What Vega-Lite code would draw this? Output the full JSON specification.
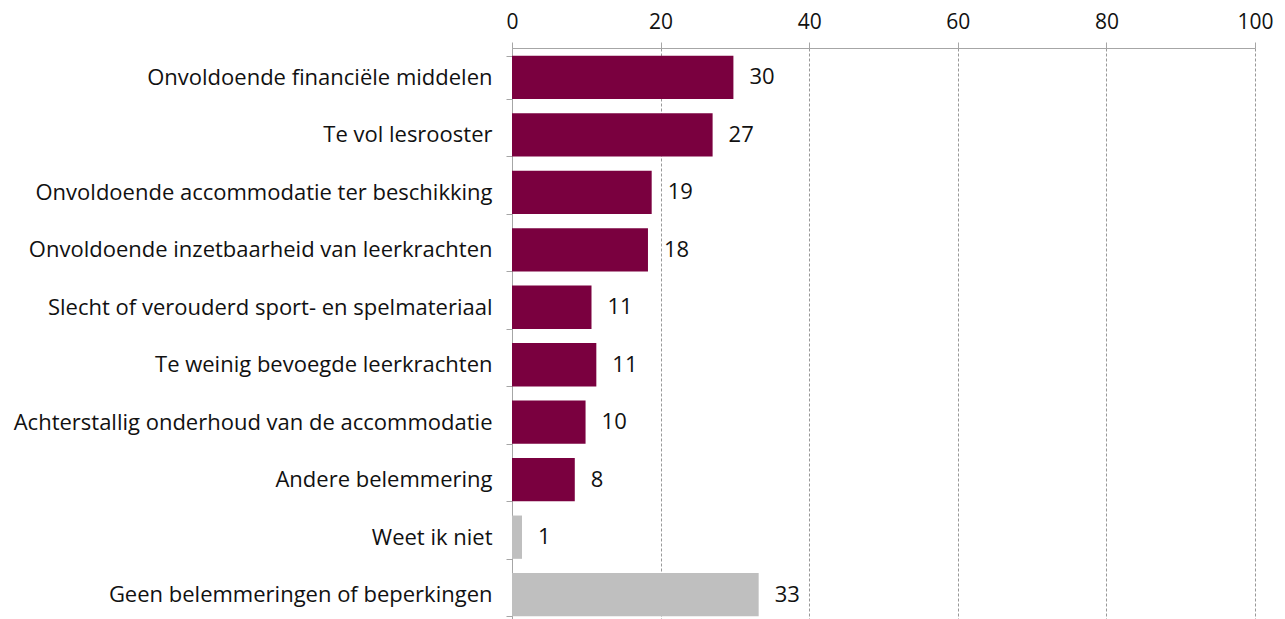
{
  "$schema": "https://vega.github.io/schema/vega-lite/v6.json",
  "autosize": "none",
  "width": 743,
  "height": 576,
  "padding": {"left": 512, "top": 48, "right": 30, "bottom": 0},
  "background": "white",
  "config": {
    "font": "Open Sans",
    "view": {"stroke": null}
  },
  "data": {
    "values": [
      {"reason": "Onvoldoende financiële middelen", "value": 29.8, "label": "30", "group": "a"},
      {"reason": "Te vol lesrooster", "value": 27.0, "label": "27", "group": "a"},
      {"reason": "Onvoldoende accommodatie ter beschikking", "value": 18.8, "label": "19", "group": "a"},
      {"reason": "Onvoldoende inzetbaarheid van leerkrachten", "value": 18.3, "label": "18", "group": "a"},
      {"reason": "Slecht of verouderd sport- en spelmateriaal", "value": 10.7, "label": "11", "group": "a"},
      {"reason": "Te weinig bevoegde leerkrachten", "value": 11.35, "label": "11", "group": "a"},
      {"reason": "Achterstallig onderhoud van de accommodatie", "value": 9.9, "label": "10", "group": "a"},
      {"reason": "Andere belemmering", "value": 8.45, "label": "8", "group": "a"},
      {"reason": "Weet ik niet", "value": 1.35, "label": "1", "group": "b"},
      {"reason": "Geen belemmeringen of beperkingen", "value": 33.2, "label": "33", "group": "b"}
    ]
  },
  "encoding": {
    "y": {
      "field": "reason",
      "type": "nominal",
      "sort": null,
      "scale": {"paddingInner": 0.247, "paddingOuter": 0.134},
      "axis": {
        "title": null,
        "orient": "left",
        "domainColor": "#A6A6A6",
        "tickColor": "#A6A6A6",
        "tickBand": "extent",
        "tickSize": 6,
        "labelPadding": 14,
        "labelFontSize": 22,
        "labelColor": "#111111",
        "labelFont": "Open Sans",
        "labelLimit": 520
      }
    },
    "x": {
      "field": "value",
      "type": "quantitative",
      "scale": {"domain": [0, 100], "nice": false},
      "axis": {
        "title": null,
        "orient": "top",
        "values": [0, 20, 40, 60, 80, 100],
        "domainColor": "#A6A6A6",
        "tickColor": "#A6A6A6",
        "tickSize": 6,
        "labelPadding": 10,
        "labelFontSize": 21,
        "labelColor": "#111111",
        "labelFont": "Open Sans",
        "grid": true,
        "gridColor": "#999999",
        "gridDash": [3, 2],
        "gridWidth": 1,
        "labelFlush": false
      }
    }
  },
  "layer": [
    {
      "mark": {"type": "bar"},
      "encoding": {
        "color": {
          "field": "group",
          "type": "nominal",
          "scale": {"domain": ["a", "b"], "range": ["#7A003F", "#BFBFBF"]},
          "legend": null
        }
      }
    },
    {
      "mark": {"type": "text", "align": "left", "baseline": "middle", "dx": 16, "fontSize": 22, "color": "#111111", "font": "Open Sans"},
      "encoding": {
        "text": {"field": "label", "type": "nominal"}
      }
    }
  ]
}
